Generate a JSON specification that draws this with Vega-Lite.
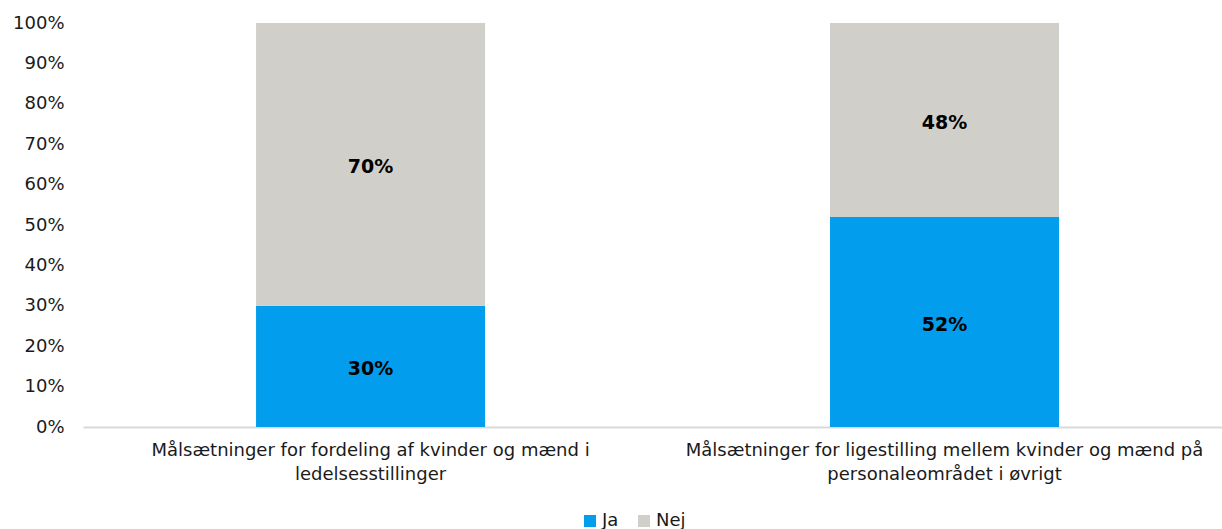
{
  "$schema": "https://vega.github.io/schema/vega-lite/v6.json",
  "width": 1139,
  "height": 404,
  "autosize": {"type": "none"},
  "padding": {"left": 83, "top": 23, "right": 0, "bottom": 102},
  "background": "white",
  "config": {
    "view": {"stroke": null},
    "font": "DejaVu Sans"
  },
  "data": {
    "values": [
      {"kategori": "Målsætninger for fordeling af kvinder og mænd i ledelsesstillinger", "svar": "Ja", "andel": 0.30},
      {"kategori": "Målsætninger for fordeling af kvinder og mænd i ledelsesstillinger", "svar": "Nej", "andel": 0.70},
      {"kategori": "Målsætninger for ligestilling mellem kvinder og mænd på personaleområdet i øvrigt", "svar": "Ja", "andel": 0.52},
      {"kategori": "Målsætninger for ligestilling mellem kvinder og mænd på personaleområdet i øvrigt", "svar": "Nej", "andel": 0.48}
    ]
  },
  "encoding": {
    "x": {
      "field": "kategori",
      "type": "nominal",
      "sort": null,
      "scale": {"paddingInner": 0.601, "paddingOuter": 0.2927, "align": 0.515},
      "axis": {
        "title": null,
        "labelAngle": 0,
        "labelFontSize": 18,
        "labelColor": "#1a1a1a",
        "labelLimit": 1000,
        "labelPadding": 14,
        "labelLineHeight": 24,
        "labelBaseline": "top",
        "ticks": false,
        "domainColor": "#d9d9d9",
        "domainWidth": 2,
        "labelExpr": "datum.value == 'Målsætninger for fordeling af kvinder og mænd i ledelsesstillinger' ? ['Målsætninger for fordeling af kvinder og mænd i', 'ledelsesstillinger'] : ['Målsætninger for ligestilling mellem kvinder og mænd på', 'personaleområdet i øvrigt']"
      }
    }
  },
  "layer": [
    {
      "mark": {"type": "bar"},
      "encoding": {
        "y": {
          "field": "andel",
          "type": "quantitative",
          "stack": "zero",
          "scale": {"domain": [0, 1]},
          "axis": {
            "title": null,
            "format": ".0%",
            "values": [0, 0.1, 0.2, 0.3, 0.4, 0.5, 0.6, 0.7, 0.8, 0.9, 1],
            "grid": false,
            "domain": false,
            "ticks": false,
            "labelFontSize": 18,
            "labelColor": "#1a1a1a",
            "labelPadding": 19
          }
        },
        "color": {
          "field": "svar",
          "type": "nominal",
          "scale": {"domain": ["Ja", "Nej"], "range": ["#029dec", "#d0cfca"]},
          "legend": {
            "title": null,
            "orient": "none",
            "legendX": 498,
            "legendY": 489,
            "direction": "horizontal",
            "symbolType": "square",
            "symbolSize": 144,
            "symbolStrokeWidth": 0,
            "labelFontSize": 18,
            "labelColor": "#1a1a1a",
            "columnPadding": 16,
            "labelOffset": 3
          }
        },
        "order": {"field": "svar", "sort": "ascending"}
      }
    },
    {
      "transform": [
        {"stack": "andel", "groupby": ["kategori"], "sort": [{"field": "svar", "order": "ascending"}], "as": ["y0", "y1"]},
        {"fold": ["y0", "y1"]},
        {"aggregate": [{"op": "mean", "field": "value", "as": "midt"}], "groupby": ["kategori", "svar", "andel"]}
      ],
      "mark": {"type": "text", "fontWeight": "bold", "fontSize": 19, "color": "#000000", "baseline": "middle", "dy": 3},
      "encoding": {
        "y": {"field": "midt", "type": "quantitative"},
        "text": {"field": "andel", "type": "quantitative", "format": ".0%"}
      }
    }
  ]
}
